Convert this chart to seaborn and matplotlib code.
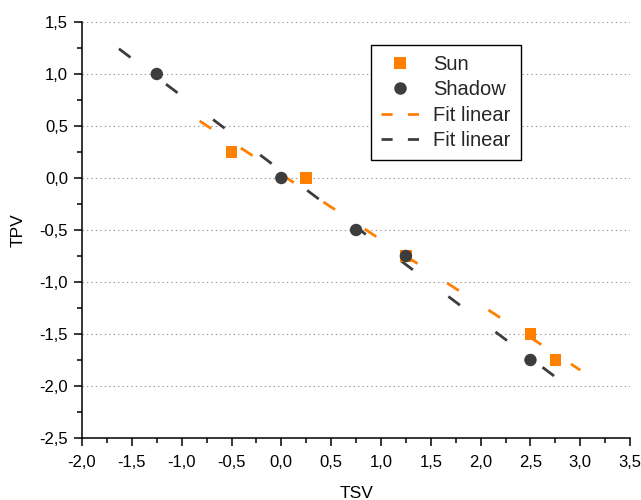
import numpy as np
import pandas as pd
import matplotlib
matplotlib.use("Agg")
import matplotlib.pyplot as plt
from matplotlib.lines import Line2D
from matplotlib.ticker import FixedLocator, FixedFormatter, MultipleLocator
import seaborn as sns

# ---- data ----
sun_tsv = [-0.5, 0.25, 1.25, 2.5, 2.75]
sun_tpv = [0.25, 0.0, -0.75, -1.5, -1.75]
shadow_tsv = [-1.25, 0.0, 0.75, 1.25, 2.5]
shadow_tpv = [1.0, 0.0, -0.5, -0.75, -1.75]
sun_fit_range = [-0.82, 3.0]
shadow_fit_range = [-1.63, 2.76]

x_ticks = [-2.0, -1.5, -1.0, -0.5, 0.0, 0.5, 1.0, 1.5, 2.0, 2.5, 3.0, 3.5]
x_labels = ["-2,0", "-1,5", "-1,0", "-0,5", "0,0", "0,5", "1,0", "1,5", "2,0", "2,5", "3,0", "3,5"]
y_ticks = [-2.5, -2.0, -1.5, -1.0, -0.5, 0.0, 0.5, 1.0, 1.5]
y_labels = ["-2,5", "-2,0", "-1,5", "-1,0", "-0,5", "0,0", "0,5", "1,0", "1,5"]

ORANGE = "#FF8000"
DARK = "#3D3D3D"

sns.set_theme(style="white")
plt.rcParams["font.family"] = ["Liberation Sans", "DejaVu Sans"]
plt.rcParams["lines.scale_dashes"] = False

fig = plt.figure(figsize=(6.41, 5.0), dpi=100)
ax = fig.add_axes([0.128, 0.124, 0.855, 0.832])

# fit lines (least-squares fit of each series)
def fit_df(x, y, rng):
    k, b = np.polyfit(x, y, 1)
    xs = np.array(rng)
    return pd.DataFrame({"x": xs, "y": k * xs + b})

sun_fit = fit_df(sun_tsv, sun_tpv, sun_fit_range)
sh_fit = fit_df(shadow_tsv, shadow_tpv, shadow_fit_range)

l1 = ax.plot(sun_fit["x"], sun_fit["y"], color=ORANGE, lw=2.0, zorder=2)[0]
l1.set_dashes((10, 25.5))
l2 = ax.plot(sh_fit["x"], sh_fit["y"], color=DARK, lw=2.0, zorder=2)[0]
l2.set_dashes((10.4, 32))

sun_df = pd.DataFrame({"TSV": sun_tsv, "TPV": sun_tpv})
sh_df = pd.DataFrame({"TSV": shadow_tsv, "TPV": shadow_tpv})
sns.scatterplot(data=sun_df, x="TSV", y="TPV", marker="s", color=ORANGE, s=70,
                edgecolor="none", ax=ax, zorder=3)
sns.scatterplot(data=sh_df, x="TSV", y="TPV", marker="o", color=DARK, s=80,
                edgecolor="none", ax=ax, zorder=3)

ax.set_xlim(-2.0, 3.5)
ax.set_ylim(-2.5, 1.5)
ax.xaxis.set_major_locator(FixedLocator(x_ticks))
ax.xaxis.set_major_formatter(FixedFormatter(x_labels))
ax.yaxis.set_major_locator(FixedLocator(y_ticks))
ax.yaxis.set_major_formatter(FixedFormatter(y_labels))
ax.xaxis.set_minor_locator(MultipleLocator(0.25))
ax.yaxis.set_minor_locator(MultipleLocator(0.25))

ax.tick_params(axis="x", which="major", direction="out", length=6, width=1.1,
               color="black", labelsize=12, labelcolor="black", pad=6, bottom=True)
ax.tick_params(axis="y", which="major", direction="out", length=6, width=1.1,
               color="black", labelsize=12, labelcolor="black", pad=4, left=True)
ax.tick_params(axis="both", which="minor", direction="out", length=3.5, width=1.1,
               color="black", bottom=True, left=True)

for side in ["top", "right"]:
    ax.spines[side].set_visible(False)
for side in ["left", "bottom"]:
    ax.spines[side].set_color("black")
    ax.spines[side].set_linewidth(1.1)

ax.yaxis.grid(True, which="major", color="#999999", linestyle=(0, (1, 2.2)), lw=0.8)
ax.xaxis.grid(False)
ax.set_axisbelow(True)

ax.set_xlabel("TSV", fontsize=12.5, color="black", labelpad=12)
ax.set_ylabel("TPV", fontsize=12.5, color="black", labelpad=10)

handles = [
    Line2D([], [], marker="s", color=ORANGE, ls="none", markersize=8, markeredgewidth=0),
    Line2D([], [], marker="o", color=DARK, ls="none", markersize=9, markeredgewidth=0),
    Line2D([], [], color=ORANGE, lw=2.0, dashes=(8, 11)),
    Line2D([], [], color=DARK, lw=2.0, dashes=(8, 11)),
]
labels = ["Sun", "Shadow", "Fit linear", "Fit linear"]
leg = ax.legend(handles, labels, loc="upper left", bbox_to_anchor=(0.527, 0.945),
                borderaxespad=0, fontsize=14.5, frameon=True, fancybox=False,
                edgecolor="black", handlelength=1.9, handletextpad=0.7,
                labelspacing=0.32, borderpad=0.5)
leg.get_frame().set_linewidth(1.0)
leg.get_frame().set_alpha(1)

fig.savefig("out.png", dpi=100)
